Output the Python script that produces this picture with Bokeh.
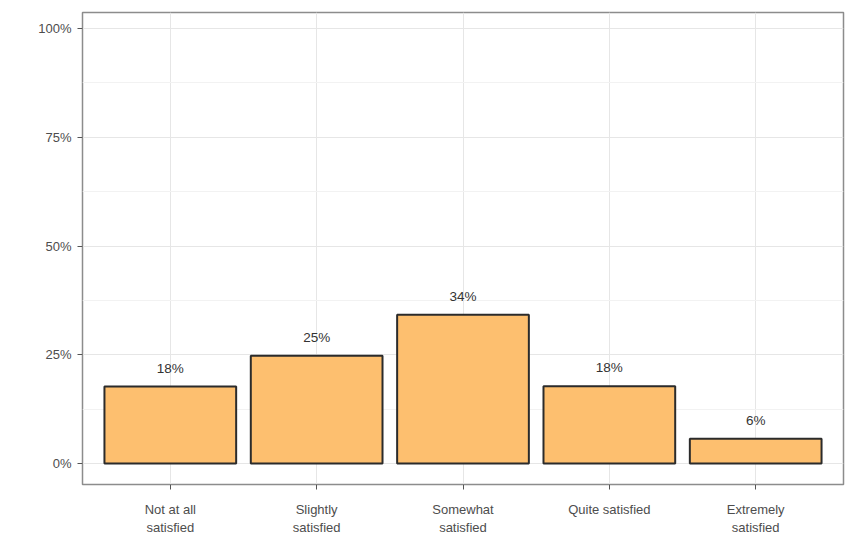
from bokeh.plotting import figure
from bokeh.models import FixedTicker, Range1d, ColumnDataSource
from bokeh.core.properties import value
from bokeh.embed import file_html
from bokeh.resources import INLINE

categories = ["Not at all\nsatisfied", "Slightly\nsatisfied", "Somewhat\nsatisfied",
              "Quite satisfied", "Extremely\nsatisfied"]
percent = [17.7, 24.8, 34.2, 17.8, 5.7]
y_ticks = [0, 25, 50, 75, 100]
y_minor = [12.5, 37.5, 62.5, 87.5]

xs = list(range(1, len(categories) + 1))
labels = [f"{round(v)}%" for v in percent]
src = ColumnDataSource(dict(x=xs, top=percent, label=labels))

FONT = "Liberation Sans"

p = figure(width=849, height=541, output_backend="svg", toolbar_location=None,
           x_range=Range1d(0.4, 5.6), y_range=Range1d(-4.8, 103.7),
           min_border_left=82, min_border_right=6, min_border_top=12, min_border_bottom=57)

p.vbar(x="x", top="top", bottom=0, width=0.9, source=src,
       fill_color="#FDBF6F", line_color="#2b2b2b", line_width=2)
p.text(x="x", y="top", text="label", source=src, text_align="center",
       text_baseline="bottom", y_offset=-11, text_font=value(FONT),
       text_font_size="13.5px", text_color="#333333")

p.xaxis.ticker = FixedTicker(ticks=xs)
p.xaxis.major_label_overrides = {x: c for x, c in zip(xs, categories)}
p.yaxis.ticker = FixedTicker(ticks=y_ticks, minor_ticks=y_minor)
p.yaxis.major_label_overrides = {t: f"{t}%" for t in y_ticks}

for ax in (p.xaxis, p.yaxis):
    ax.axis_line_color = None
    ax.major_tick_line_color = "#555555"
    ax.major_tick_in = 0
    ax.major_tick_out = 5
    ax.minor_tick_line_color = None
    ax.major_label_text_font = FONT
    ax.major_label_text_font_size = "13px"
    ax.major_label_text_color = "#4d4d4d"
p.yaxis.major_label_standoff = 6
p.xaxis.major_label_standoff = 12

p.xgrid.grid_line_color = "#e6e6e6"
p.ygrid.grid_line_color = "#e6e6e6"
p.ygrid.minor_grid_line_color = "#f2f2f2"
p.outline_line_color = "#8c8c8c"
p.outline_line_width = 1.5
p.background_fill_color = "white"

open("out.html", "w").write(file_html(p, INLINE))
